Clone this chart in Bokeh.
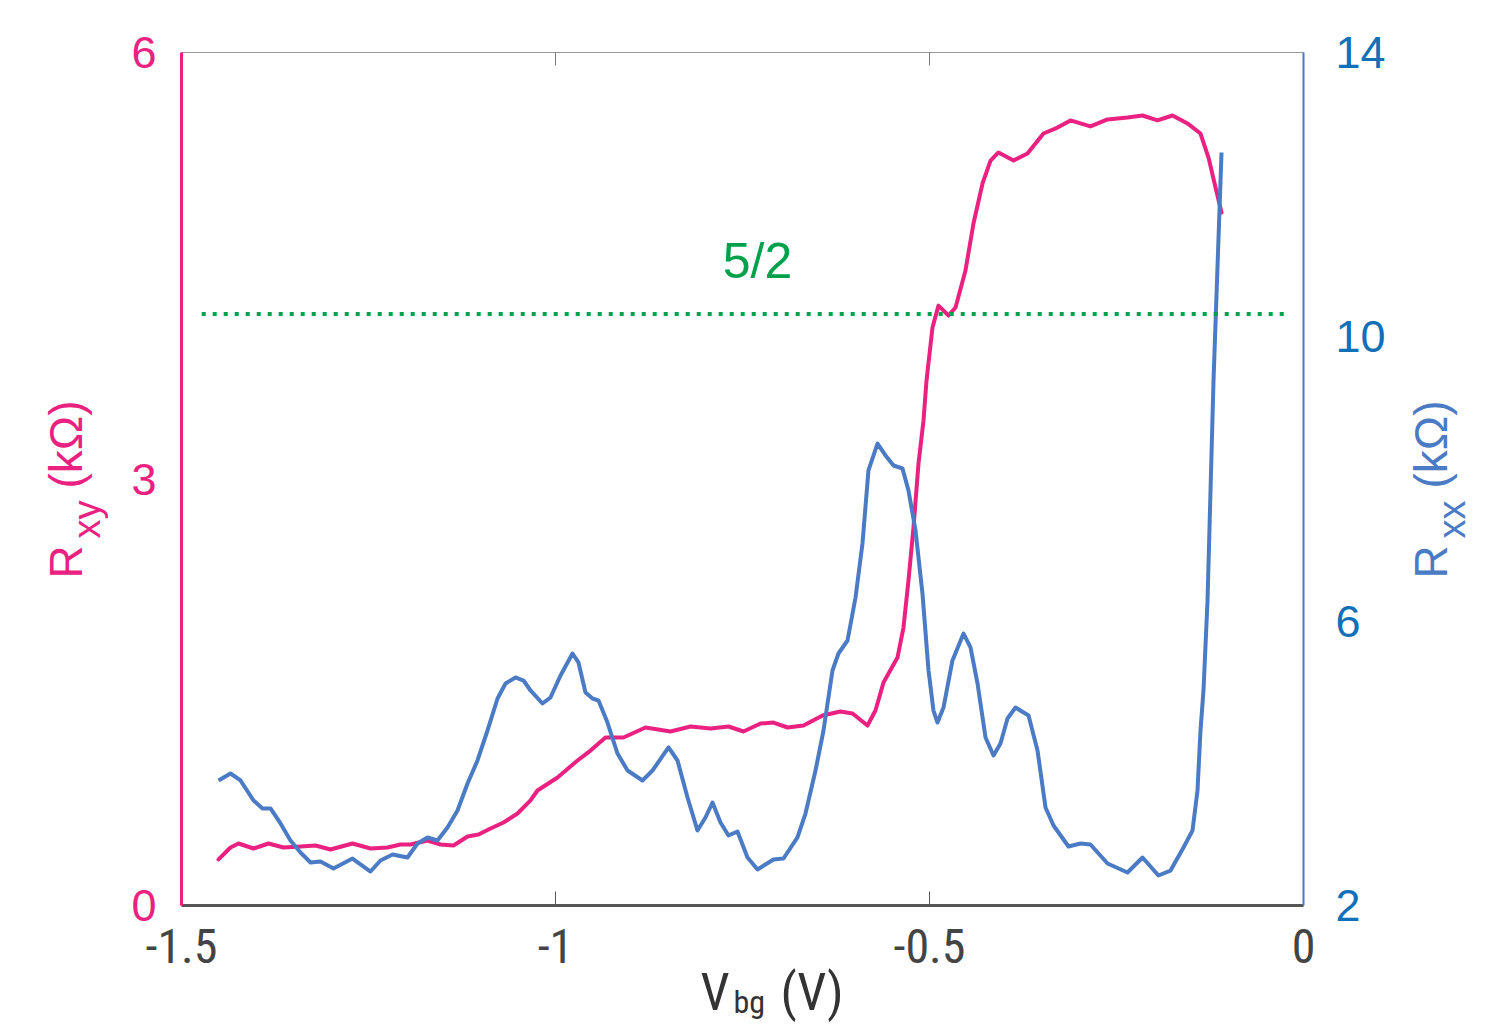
import math
from bokeh.plotting import figure
from bokeh.models import Range1d, LinearAxis, FixedTicker, Label
from bokeh.embed import file_html
from bokeh.resources import INLINE

# ---------------- data ----------------
vbg_xy = [-1.4505, -1.4345, -1.4238, -1.4037, -1.3837, -1.3636, -1.3409, -1.3209, -1.3008, -1.2714,
          -1.2473, -1.2246, -1.2072, -1.1939, -1.1711, -1.1537, -1.1364, -1.1176, -1.1029, -1.0869,
          -1.0695, -1.0508, -1.0334, -1.0241, -0.9973, -0.9706, -0.9532, -0.9332, -0.9091, -0.8797,
          -0.8463, -0.8195, -0.7928, -0.7687, -0.7487, -0.7259, -0.7086, -0.6898, -0.6684, -0.6430,
          -0.6190, -0.6029, -0.5829, -0.5722, -0.5615, -0.5428, -0.5348, -0.5281, -0.5214, -0.5147,
          -0.5080, -0.5040, -0.4960, -0.4880, -0.4746, -0.4652, -0.4519, -0.4412, -0.4291, -0.4184,
          -0.4078, -0.3877, -0.3690, -0.3476, -0.3289, -0.3115, -0.2848, -0.2620, -0.2353, -0.2152,
          -0.1952, -0.1751, -0.1551, -0.1377, -0.1270, -0.1176, -0.1096]
rxy = [0.324, 0.408, 0.436, 0.401, 0.436, 0.408, 0.415, 0.422, 0.394, 0.436,
       0.401, 0.408, 0.429, 0.429, 0.457, 0.429, 0.422, 0.485, 0.499, 0.542,
       0.584, 0.647, 0.739, 0.809, 0.900, 1.020, 1.090, 1.182, 1.182, 1.252,
       1.224, 1.259, 1.245, 1.259, 1.224, 1.280, 1.287, 1.252, 1.266, 1.337,
       1.365, 1.351, 1.266, 1.372, 1.569, 1.744, 1.955, 2.286, 2.659, 3.109,
       3.412, 3.693, 4.066, 4.220, 4.150, 4.206, 4.467, 4.797, 5.079, 5.240,
       5.297, 5.240, 5.290, 5.430, 5.472, 5.522, 5.480, 5.529, 5.543, 5.557,
       5.522, 5.557, 5.501, 5.430, 5.261, 5.050, 4.875]

vbg_xx = [-1.4505, -1.4345, -1.4211, -1.4037, -1.3917, -1.3810, -1.3676, -1.3543, -1.3409, -1.3275,
          -1.3142, -1.2968, -1.2714, -1.2473, -1.2340, -1.2179, -1.1979, -1.1845, -1.1711, -1.1578,
          -1.1444, -1.1310, -1.1176, -1.1043, -1.0909, -1.0775, -1.0668, -1.0535, -1.0428, -1.0334,
          -1.0174, -1.0067, -0.9933, -0.9773, -0.9693, -0.9599, -0.9505, -0.9425, -0.9305, -0.9171,
          -0.9037, -0.8837, -0.8703, -0.8489, -0.8369, -0.8235, -0.8102, -0.7995, -0.7901, -0.7794,
          -0.7687, -0.7567, -0.7433, -0.7299, -0.7086, -0.6952, -0.6765, -0.6658, -0.6524, -0.6417,
          -0.6297, -0.6217, -0.6096, -0.5989, -0.5896, -0.5816, -0.5695, -0.5588, -0.5481, -0.5361,
          -0.5281, -0.5187, -0.5094, -0.5013, -0.4947, -0.4893, -0.4813, -0.4693, -0.4545, -0.4452,
          -0.4358, -0.4251, -0.4144, -0.4051, -0.3957, -0.3850, -0.3676, -0.3556, -0.3449, -0.3342,
          -0.3142, -0.2981, -0.2848, -0.2620, -0.2353, -0.2152, -0.1939, -0.1778, -0.1604, -0.1484,
          -0.1417, -0.1377, -0.1337, -0.1283, -0.1203, -0.1096]
rxx = [3.759, 3.857, 3.759, 3.477, 3.365, 3.365, 3.154, 2.914, 2.746, 2.605,
       2.619, 2.521, 2.661, 2.478, 2.633, 2.717, 2.675, 2.872, 2.957, 2.914,
       3.097, 3.336, 3.716, 4.040, 4.462, 4.912, 5.123, 5.208, 5.165, 5.025,
       4.842, 4.926, 5.236, 5.545, 5.419, 4.996, 4.912, 4.884, 4.574, 4.138,
       3.899, 3.759, 3.899, 4.223, 4.040, 3.519, 3.055, 3.238, 3.449, 3.168,
       2.985, 3.041, 2.675, 2.506, 2.647, 2.661, 2.957, 3.294, 3.899, 4.462,
       5.306, 5.545, 5.728, 6.333, 7.093, 8.120, 8.499, 8.331, 8.190, 8.148,
       7.838, 7.276, 6.389, 5.306, 4.743, 4.574, 4.785, 5.447, 5.826, 5.630,
       5.123, 4.363, 4.110, 4.279, 4.631, 4.785, 4.673, 4.181, 3.379, 3.125,
       2.830, 2.872, 2.858, 2.591, 2.464, 2.675, 2.422, 2.492, 2.816, 3.055,
       3.618, 4.462, 5.025, 6.291, 9.386, 12.593]

plateau_x = [-1.473, -0.024]
plateau_rxx = [10.32, 10.32]
plateau_label = "5/2"

x_ticks = [-1.5, -1.0, -0.5, 0.0]
x_tick_labels = {-1.5: "-1.5", -1.0: "-1", -0.5: "-0.5", 0.0: "0"}
rxy_ticks = [0, 3, 6]
rxx_ticks = [2, 6, 10, 14]

# ---------------- layout / styles ----------------
W, H = 1493, 1024
FRAME_L, FRAME_R, FRAME_T, FRAME_B = 181, 1303, 52, 905   # where the data box sits
X0, X1, Y0, Y1, R0, R1 = -1.5, 0.0, 0.0, 6.0, 2.0, 14.0
sx = (FRAME_R - FRAME_L) / (X1 - X0)
sy = (FRAME_B - FRAME_T) / (Y1 - Y0)
sr = (FRAME_B - FRAME_T) / (R1 - R0)

MAGENTA = "#EA2180"
BLUE = "#4A7BC4"
BLUE_TXT = "#1170B8"
GREEN = "#00A14B"
GRAY = "#555555"
FONT = "Liberation Sans"
NARROW = "Roboto Condensed, DejaVu Sans Condensed, Liberation Sans"

p = figure(width=W, height=H,
           x_range=Range1d(X0 - FRAME_L / sx, X0 + (W - FRAME_L) / sx),
           y_range=Range1d(Y0 - (H - FRAME_B) / sy, Y0 + FRAME_B / sy),
           output_backend="svg", toolbar_location=None,
           min_border=0, x_axis_location=None, y_axis_location=None)
p.extra_y_ranges = {"rxx": Range1d(R0 - (H - FRAME_B) / sr, R0 + FRAME_B / sr)}
p.grid.visible = False
p.outline_line_color = None
p.background_fill_color = "white"
p.border_fill_color = "white"

# bottom axis
xb = LinearAxis(ticker=FixedTicker(ticks=x_ticks), major_label_overrides=x_tick_labels,
                fixed_location=Y0, bounds=(X0, X1))
xb.axis_line_color = GRAY
xb.axis_line_width = 3
xb.major_tick_in = 14
xb.major_tick_out = 0
xb.major_tick_line_color = GRAY
xb.major_tick_line_width = 1
xb.minor_tick_line_color = None
xb.major_label_text_font = NARROW
xb.major_label_text_font_size = "48px"
xb.major_label_text_color = "#444444"
xb.major_label_standoff = 23
p.add_layout(xb, "below")

# top axis (box line + ticks only)
xt = LinearAxis(ticker=FixedTicker(ticks=x_ticks), fixed_location=Y1, bounds=(X0, X1))
xt.axis_line_color = "#999999"
xt.axis_line_width = 1
xt.major_tick_in = 13
xt.major_tick_out = 0
xt.major_tick_line_color = "#777777"
xt.major_tick_line_width = 1
xt.minor_tick_line_color = None
xt.major_label_text_font_size = "0px"
xt.major_label_text_color = None
p.add_layout(xt, "above")

# left axis
yl = LinearAxis(ticker=FixedTicker(ticks=rxy_ticks), fixed_location=X0, bounds=(Y0, Y1))
yl.axis_line_color = MAGENTA
yl.axis_line_width = 3
yl.major_tick_line_color = None
yl.minor_tick_line_color = None
yl.major_label_text_color = MAGENTA
yl.major_label_text_font = FONT
yl.major_label_text_font_size = "45px"
yl.major_label_standoff = 19
p.add_layout(yl, "left")

# right axis
yr = LinearAxis(y_range_name="rxx", ticker=FixedTicker(ticks=rxx_ticks),
                fixed_location=X1, bounds=(R0, R1))
yr.axis_line_color = BLUE
yr.axis_line_width = 2
yr.major_tick_line_color = None
yr.minor_tick_line_color = None
yr.major_label_text_color = BLUE_TXT
yr.major_label_text_font = FONT
yr.major_label_text_font_size = "45px"
yr.major_label_standoff = 26
p.add_layout(yr, "right")

# curves
p.line(vbg_xy, rxy, line_color=MAGENTA, line_width=4, line_join="round", line_cap="round")
p.line(vbg_xx, rxx, y_range_name="rxx", line_color=BLUE, line_width=4,
       line_join="round", line_cap="butt")
p.line(plateau_x, plateau_rxx, y_range_name="rxx", line_color=GREEN, line_width=4,
       line_dash="4 7")

p.add_layout(Label(x=-0.730, y=11.06, y_range_name="rxx", text=plateau_label,
                   text_color=GREEN, text_font=FONT, text_font_size="50px",
                   text_align="center", text_baseline="alphabetic"))

# axis titles (with subscripts)
def add_label(x, y, text, color, size, angle=0.0, font=FONT):
    p.add_layout(Label(x=x, y=y, text=text, text_color=color, text_font=font,
                       text_font_size=size, angle=angle, text_align="left",
                       text_baseline="alphabetic"))

A = math.pi / 2
add_label(-1.6544, 2.300, "R", MAGENTA, "46px", A)
add_label(-1.6260, 2.582, "xy", MAGENTA, "38px", A)
add_label(-1.6544, 2.933, "(kΩ)", MAGENTA, "46px", A)

add_label(0.1705, 2.300, "R", BLUE, "46px", A)
add_label(0.1980, 2.582, "xx", BLUE, "38px", A)
add_label(0.1705, 2.933, "(kΩ)", BLUE, "46px", A)

add_label(-0.8061, -0.612, "V", "#333333", "52px", 0.0, NARROW)
add_label(-0.7620, -0.682, "bg", "#333333", "32px", 0.0, NARROW)
add_label(-0.6992, -0.612, "(V)", "#333333", "52px", 0.0, NARROW)

open("out.html", "w").write(file_html(p, INLINE))
